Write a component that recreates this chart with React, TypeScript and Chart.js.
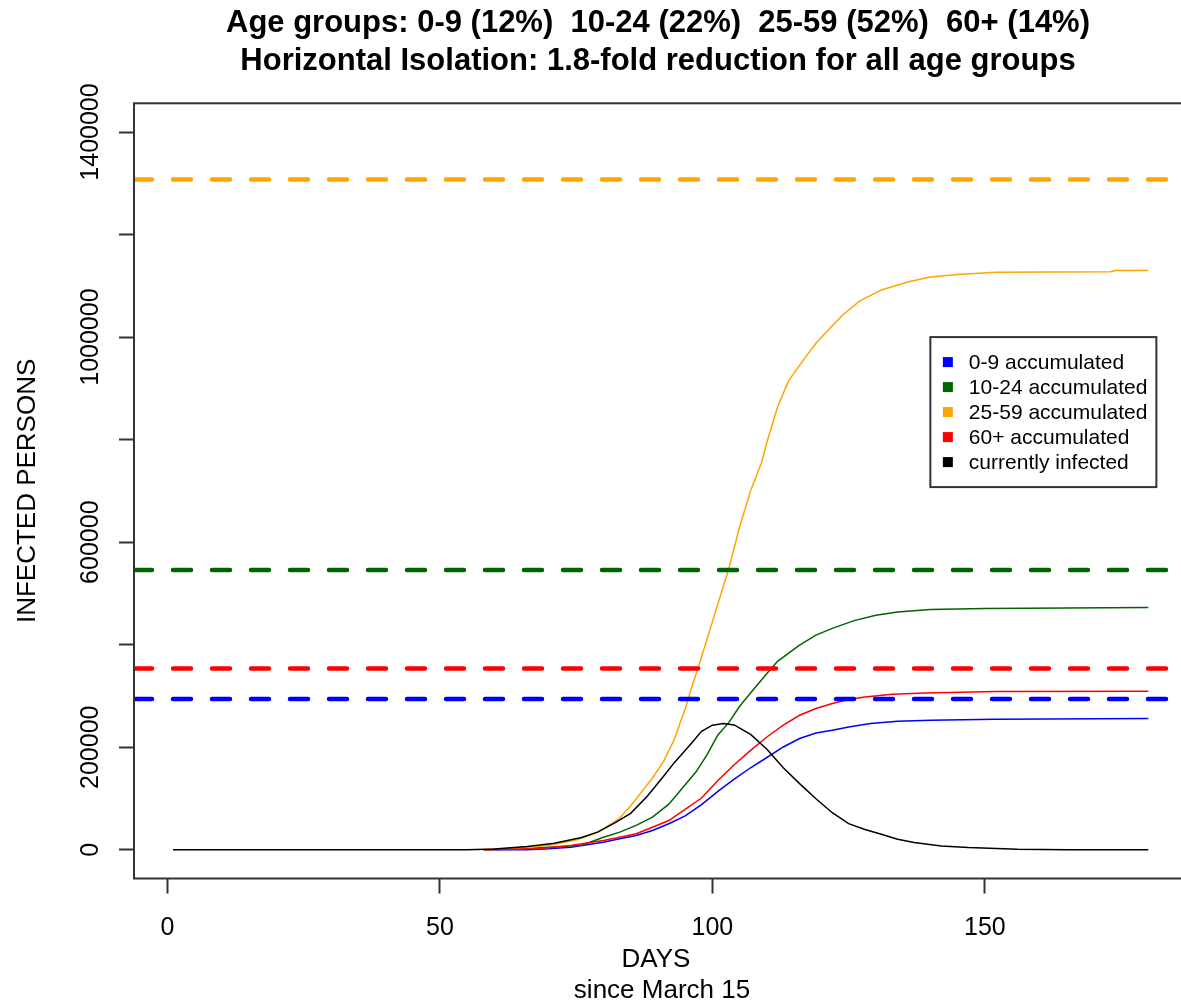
import React, { useEffect, useRef } from 'react';
import { Chart, registerables } from 'chart.js';

Chart.register(...registerables);

// ---------- text ----------
const TITLE_LINES = [
  'Age groups: 0-9 (12%)  10-24 (22%)  25-59 (52%)  60+ (14%)',
  'Horizontal Isolation: 1.8-fold reduction for all age groups',
];
const X_TITLE = 'DAYS';
const X_SUBTITLE = 'since March 15';
const Y_TITLE = 'INFECTED PERSONS';

// ---------- axes ----------
const X_TICKS = [0, 50, 100, 150];
const Y_TICKS = [0, 200000, 400000, 600000, 800000, 1000000, 1200000, 1400000];
const Y_TICK_LABELS = ['0', '200000', '', '600000', '', '1000000', '', '1400000'];
const X_MIN = -6.16;
const X_MAX = 186;
const Y_MIN = -56000;
const Y_MAX = 1456000;

// ---------- series ----------
const SERIES_LABELS = ['0-9 accumulated', '10-24 accumulated', '25-59 accumulated', '60+ accumulated', 'currently infected'];
const SERIES_COLORS = ['#0000FF', '#006400', '#FFA500', '#FF0000', '#000000'];

const blueDays = [58, 66, 70, 74, 80, 83, 86, 89, 92, 95, 98, 101, 104, 107, 110, 113, 116, 119, 122, 125, 129, 134, 140, 152, 180];
const blueValues = [0, 0, 2000, 5100, 14800, 21500, 27900, 37700, 50800, 66000, 88000, 114000, 138000, 160000, 180000, 200500, 217000, 227800, 233100, 239500, 246200, 250700, 252600, 254600, 255900];

const greenDays = [58, 66, 71, 76, 80, 83, 86, 89, 92, 95, 97, 99, 101, 103, 105, 107, 110, 112, 116, 119, 122, 126, 130, 134, 140, 150, 180];
const greenValues = [0, 3000, 5500, 9000, 24600, 34400, 47500, 63700, 89000, 127000, 152000, 185000, 224000, 248000, 280000, 306000, 344000, 368000, 399000, 418700, 431800, 447000, 457500, 464000, 468800, 470800, 472800];

const orangeDays = [58, 66, 70, 75, 79, 83, 85, 87, 89, 91, 93, 95, 96, 97, 98, 100, 103, 105, 107, 109, 110, 112, 114, 117, 119, 121, 124, 127, 131, 136, 140, 145, 152, 173, 174, 180];
const orangeValues = [0, 4000, 9000, 19000, 34000, 62000, 86000, 113000, 140000, 172000, 215000, 275000, 310000, 343000, 376000, 445000, 548000, 630000, 700000, 755000, 795000, 865000, 915000, 960000, 988000, 1011000, 1044000, 1070000, 1092000, 1108000, 1117000, 1122000, 1126500, 1127300, 1129800, 1129800];

const redDays = [58, 68, 74, 80, 83, 86, 89, 92, 95, 98, 101, 104, 107, 110, 113, 116, 119, 122, 125, 128, 133, 139, 152, 180];
const redValues = [0, 2000, 8400, 18200, 24600, 31300, 44000, 57000, 79000, 101000, 135000, 166000, 194000, 220000, 243000, 262400, 275500, 285200, 293000, 298000, 303400, 306000, 308700, 309300];

const blackDays = [1, 55, 60, 66, 71, 76, 79, 82, 85, 88, 91, 93, 96, 98, 100, 102, 104, 107, 110, 113, 116, 119, 122, 125, 128, 131, 134, 137, 142, 147, 156, 165, 180];
const blackValues = [0, 0, 1500, 6400, 12900, 24000, 35000, 52000, 71000, 104000, 143000, 170000, 206000, 231000, 243000, 246500, 243500, 225000, 196000, 160000, 129000, 99600, 72300, 51000, 39500, 30300, 20600, 14200, 7500, 4300, 1200, 300, 0];

// population size of each age group (dashed horizontal lines)
const LIMIT_COLORS = ['#FFA500', '#006400', '#FF0000', '#0000FF'];
const LIMIT_VALUES = [1307600, 545700, 353600, 294200];

// legend anchor (data coordinates of the top-left corner)
const LEGEND_X = 140;
const LEGEND_Y = 1000000;

const FONT = '"Liberation Sans", Arial, Helvetica, sans-serif';

const toPoints = (days: number[], vals: number[]) => days.map((d, i) => ({ x: d, y: vals[i] }));

const decorPlugin = {
  id: 'decor',
  afterDraw(chart: any) {
    const { ctx, chartArea: ca, scales } = chart;
    const xs = scales.x;
    const ys = scales.y;
    ctx.save();

    // plot box
    ctx.strokeStyle = '#333333';
    ctx.lineWidth = 2;
    ctx.strokeRect(ca.left, ca.top, ca.right - ca.left + 20, ca.bottom - ca.top);

    // title
    ctx.fillStyle = '#000';
    ctx.textAlign = 'center';
    ctx.textBaseline = 'alphabetic';
    ctx.font = `bold 31px ${FONT}`;
    ctx.fillText(TITLE_LINES[0], 658, 32);
    ctx.fillText(TITLE_LINES[1], 658, 70);

    // x title
    ctx.font = `26px ${FONT}`;
    ctx.fillText(X_TITLE, 656, 967);
    ctx.fillText(X_SUBTITLE, 662, 998);

    // y tick labels (rotated, R style)
    ctx.font = `25px ${FONT}`;
    Y_TICKS.forEach((v, i) => {
      const lab = Y_TICK_LABELS[i];
      if (!lab) return;
      const py = ys.getPixelForValue(v);
      ctx.save();
      ctx.translate(98, py);
      ctx.rotate(-Math.PI / 2);
      ctx.textAlign = 'center';
      ctx.textBaseline = 'alphabetic';
      ctx.fillText(lab, 0, 0);
      ctx.restore();
    });

    // y title
    ctx.save();
    ctx.font = `26px ${FONT}`;
    ctx.translate(35, (ca.top + ca.bottom) / 2);
    ctx.rotate(-Math.PI / 2);
    ctx.textAlign = 'center';
    ctx.textBaseline = 'alphabetic';
    ctx.fillText(Y_TITLE, 0, 0);
    ctx.restore();

    // legend
    const lx = xs.getPixelForValue(LEGEND_X);
    const ly = ys.getPixelForValue(LEGEND_Y);
    const bw = 226;
    const bh = 150;
    ctx.fillStyle = '#fff';
    ctx.fillRect(lx, ly, bw, bh);
    ctx.strokeStyle = '#333333';
    ctx.lineWidth = 2;
    ctx.strokeRect(lx, ly, bw, bh);
    ctx.font = `21px ${FONT}`;
    ctx.textAlign = 'left';
    ctx.textBaseline = 'middle';
    SERIES_LABELS.forEach((lab, i) => {
      const cy = ly + 25 + i * 25;
      ctx.fillStyle = SERIES_COLORS[i];
      ctx.fillRect(lx + 12.5, cy - 5, 10, 10);
      ctx.fillStyle = '#000';
      ctx.fillText(lab, lx + 38.5, cy + 1);
    });

    ctx.restore();
  },
};

export default function App() {
  const ref = useRef<HTMLCanvasElement | null>(null);

  useEffect(() => {
    document.body.style.margin = '0';
    const canvas = ref.current;
    if (!canvas) return;

    const limitSets = LIMIT_VALUES.map((v, i) => ({
      label: 'limit ' + i,
      data: [
        { x: X_MIN, y: v },
        { x: X_MAX, y: v },
      ],
      borderColor: LIMIT_COLORS[i],
      borderWidth: 4.5,
      borderDash: [18, 21],
      borderCapStyle: 'round' as const,
      pointRadius: 0,
      fill: false,
    }));

    const curve = (days: number[], vals: number[], idx: number) => ({
      label: SERIES_LABELS[idx],
      data: toPoints(days, vals),
      borderColor: SERIES_COLORS[idx],
      borderWidth: 1.5,
      pointRadius: 0,
      tension: 0,
      fill: false,
    });

    const tickGrid = {
      display: true,
      drawOnChartArea: false,
      drawTicks: true,
      tickLength: 15,
      tickColor: '#333333',
      tickWidth: 2,
    };

    const chart = new Chart(canvas, {
      type: 'line',
      data: {
        datasets: [
          ...limitSets,
          curve(blackDays, blackValues, 4),
          curve(redDays, redValues, 3),
          curve(orangeDays, orangeValues, 2),
          curve(greenDays, greenValues, 1),
          curve(blueDays, blueValues, 0),
        ] as any,
      },
      options: {
        responsive: false,
        animation: false,
        devicePixelRatio: 1,
        layout: { padding: { top: 103.3, left: 0, right: 0, bottom: 0 } },
        plugins: {
          legend: { display: false },
          tooltip: { enabled: false },
          title: { display: false },
        },
        scales: {
          x: {
            type: 'linear',
            min: X_MIN,
            max: X_MAX,
            afterBuildTicks: (s: any) => {
              s.ticks = X_TICKS.map((v) => ({ value: v }));
            },
            afterFit: (s: any) => {
              s.height = 1004 - 878.5;
            },
            grid: tickGrid,
            border: { display: false },
            ticks: {
              autoSkip: false,
              maxRotation: 0,
              color: '#000',
              padding: 20,
              font: { family: FONT, size: 25 },
              callback: (v: any) => String(v),
            },
          },
          y: {
            type: 'linear',
            min: Y_MIN,
            max: Y_MAX,
            afterBuildTicks: (s: any) => {
              s.ticks = Y_TICKS.map((v) => ({ value: v }));
            },
            afterFit: (s: any) => {
              s.width = 134;
            },
            grid: tickGrid,
            border: { display: false },
            ticks: { display: false },
          },
        },
      } as any,
      plugins: [decorPlugin],
    });

    return () => chart.destroy();
  }, []);

  return (
    <div style={{ width: 1181, height: 1004, background: '#fff' }}>
      <canvas ref={ref} width={1181} height={1004} style={{ display: 'block' }} />
    </div>
  );
}
